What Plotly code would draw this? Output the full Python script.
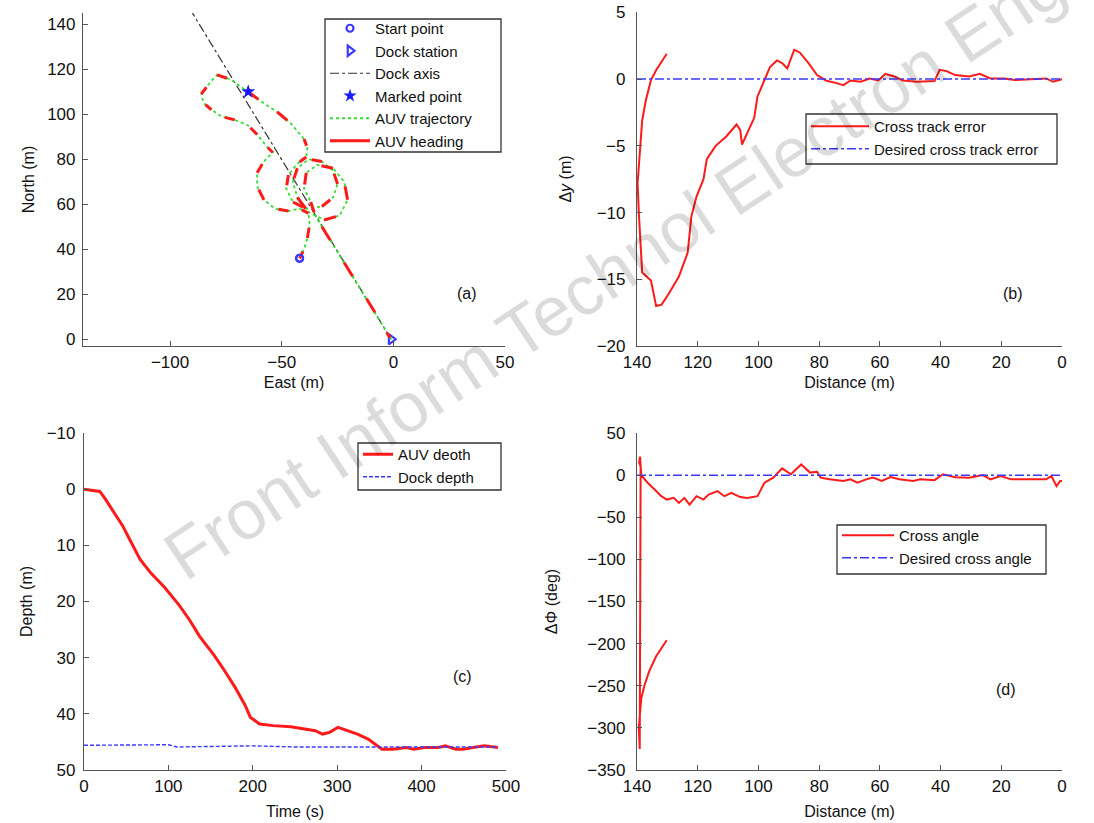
import plotly.graph_objects as go

FONT = "Liberation Sans, Arial, sans-serif"

# ---------------- Panel (a): trajectory ----------------
traj_east = [-42, -40, -38.5, -37.5, -38, -42, -47, -53, -58, -61, -61, -58, -54, -57, -61, -65, -71,
             -77, -81.5, -85, -86, -83, -79, -73, -65, -59, -52, -46, -40, -38.5, -39, -43, -47, -48,
             -45, -39, -32, -27, -25, -27, -32, -38, -43, -45, -43, -38, -31, -24, -20.5, -22, -27,
             -34, -39, -40, -37, -35, -32, -27, -22, -17, -12, -7, -3, -1]
traj_north = [36, 40, 45, 51, 56, 58, 57, 58, 62, 68, 74, 79, 83, 86, 91, 95, 97.5,
              99, 102, 105, 109, 113, 117.5, 115.5, 110, 105.5, 101, 96, 89, 85, 81, 78, 73, 67,
              61, 58, 59, 63, 69, 75, 79, 80, 76, 70, 63, 56.5, 53, 55, 62, 70, 76,
              77.5, 74, 67, 61, 55, 50, 42, 34, 26, 18, 10, 3, 0]
start_east, start_north = [-42], [36]
dock_east, dock_north = [-1], [0]
marked_east, marked_north = [-65], [110]
axis_east = [-1, -90]
axis_north = [0, 145]

# ---------------- Panel (b): cross track error ----------------
b_dist = [130.2, 133.7, 135.4, 137.1, 138.3, 139.1, 139.8, 139.4, 138.6, 138.3, 135.4, 134.2, 133.7,
          131.9, 129.6, 126.2, 123.3, 122.1, 120.4, 118.1, 117, 114.1, 110.6, 107.2, 106, 105.4,
          103.7, 101.4, 100.3, 98.5, 96.2, 93.9, 92.2, 90.5, 88.2, 86.4, 83.5, 80.7, 77.8, 74.3,
          72, 69.7, 66.3, 63.4, 60.5, 58.2, 55.3, 52.4, 47.8, 42, 40.3, 38, 35.2, 30.6, 27.1,
          23.6, 19, 15.6, 9.8, 5.2, 2.9, 0]
b_err = [1.9, 0.67, -0.07, -1.6, -3.1, -5.3, -7.8, -10, -13, -14.5, -15.1, -16.5, -17,
         -16.9, -16.1, -14.8, -13, -10.3, -8.8, -7.5, -6, -5, -4.3, -3.4, -3.8, -4.9,
         -4.05, -2.9, -1.3, -0.3, 0.9, 1.4, 1.2, 0.8, 2.2, 2.0, 1.2, 0.3, -0.1, -0.3,
         -0.45, -0.1, -0.2, 0.05, -0.1, 0.4, 0.2, -0.1, -0.2, -0.15, 0.7, 0.6, 0.3, 0.2, 0.4,
         0.05, 0.05, -0.07, 0, 0.05, -0.2, 0]
b_des_dist = [140, 0]
b_des_err = [0, 0]

# ---------------- Panel (c): depth ----------------
c_time = [0, 18.7, 25, 33, 45.7, 56, 66.5, 79, 95.6, 112, 124.7, 137, 153.8, 166, 178.7, 191, 197,
          208, 224, 245, 262, 274, 282.6, 291, 301, 311.7, 324, 336.7, 345, 353, 366, 382, 390.7,
          403, 420, 428, 440.6, 449, 461, 474, 490.4]
c_depth = [0, 0.4, 1.7, 3.5, 6.5, 9.5, 12.5, 14.9, 17.5, 20.5, 23.2, 26.2, 29.5, 32.2, 35.2, 38.5, 40.6,
           41.8, 42.1, 42.3, 42.7, 43, 43.6, 43.3, 42.4, 43, 43.6, 44.5, 45.4, 46.3, 46.3, 46, 46.3,
           46, 46, 45.7, 46.3, 46.3, 46, 45.7, 46]
c_dock_time = [0, 50, 100, 110, 150, 200, 250, 300, 350, 400, 450, 490]
c_dock_depth = [45.6, 45.6, 45.5, 45.9, 45.8, 45.7, 45.9, 45.9, 45.9, 45.9, 45.8, 45.9]

# ---------------- Panel (d): cross angle ----------------
d_dist = [130.2, 133.7, 136, 137.5, 138.6, 139.4, 139.1, 138.9, 138.8, 139.3, 139, 138.6, 136.5, 134.2,
          132, 130.2, 127.9, 126.2, 124.4, 122.7, 120.4, 118.1, 116.4, 113.5, 111.2, 108.9, 106,
          103.7, 100.3, 98, 95.1, 92.2, 89.3, 85.9, 83, 80.7, 79.5, 76.6, 72, 69.7, 67.4, 64.5,
          62.2, 59.4, 56.5, 53.6, 49, 46.7, 42, 39.2, 35.2, 30.6, 26, 23.6, 20.2, 16.7, 12.1,
          5.2, 3.5, 1.8, 0.6, 0]
d_ang = [-196, -215, -233, -249, -265, -300, -325, -70, 10, 15, 22, 0, -9, -17,
         -25, -29, -27, -33, -27, -35, -25, -29, -23, -19, -25, -21, -26,
         -27, -25, -9, -3, 8, 1, 12.7, 3, 4, -3, -5, -7, -5, -9, -5,
         -3, -7, -2.4, -5, -7, -5, -6, 1, -2.4, -3, 0, -5, -1, -5, -5,
         -5, -1, -13, -7, -7]
d_des_dist = [140, 0]
d_des_ang = [0, 0]

RED = "#ff1a1a"
BLUE = "#3a3aff"
GREEN = "#33dd33"

fig = go.Figure()

# heading marks: short pieces of every other trajectory leg, pointing along the path
head_e, head_n = [], []
for i in range(0, len(traj_east) - 1, 2):
    e0, n0 = traj_east[i], traj_north[i]
    e1, n1 = traj_east[i + 1], traj_north[i + 1]
    head_e += [e0, e0 + 0.75 * (e1 - e0), None]
    head_n += [n0, n0 + 0.75 * (n1 - n0), None]

fig.add_trace(go.Scatter(x=start_east, y=start_north, mode="markers", name="Start point",
                         marker=dict(symbol="circle-open", size=7, color=BLUE, line=dict(width=2.2)),
                         xaxis="x", yaxis="y", legend="legend"))
fig.add_trace(go.Scatter(x=dock_east, y=dock_north, mode="markers", name="Dock station",
                         marker=dict(symbol="triangle-right-open", size=9, color=BLUE, line=dict(width=2.2)),
                         xaxis="x", yaxis="y", legend="legend"))
fig.add_trace(go.Scatter(x=axis_east, y=axis_north, mode="lines", name="Dock axis",
                         line=dict(color="#333333", width=1.2, dash="dashdot"),
                         xaxis="x", yaxis="y", legend="legend"))
fig.add_trace(go.Scatter(x=marked_east, y=marked_north, mode="markers", name="Marked point",
                         marker=dict(symbol="star", size=10, color="#1a1aff"),
                         xaxis="x", yaxis="y", legend="legend"))
fig.add_trace(go.Scatter(x=traj_east, y=traj_north, mode="lines", name="AUV trajectory",
                         line=dict(color=GREEN, width=1.8, dash="dot"),
                         xaxis="x", yaxis="y", legend="legend"))
fig.add_trace(go.Scatter(x=head_e, y=head_n, mode="lines", name="AUV heading",
                         line=dict(color=RED, width=3),
                         xaxis="x", yaxis="y", legend="legend"))
fig.add_trace(go.Scatter(x=start_east, y=start_north, mode="markers", showlegend=False,
                         marker=dict(symbol="circle-open", size=7, color=BLUE, line=dict(width=2.2)),
                         xaxis="x", yaxis="y"))
fig.add_trace(go.Scatter(x=marked_east, y=marked_north, mode="markers", showlegend=False,
                         marker=dict(symbol="star", size=10, color="#1a1aff"),
                         xaxis="x", yaxis="y"))

# (b)
fig.add_trace(go.Scatter(x=b_dist, y=b_err, mode="lines", name="Cross track error",
                         line=dict(color=RED, width=2), xaxis="x2", yaxis="y2", legend="legend2"))
fig.add_trace(go.Scatter(x=b_des_dist, y=b_des_err, mode="lines", name="Desired cross track error",
                         line=dict(color=BLUE, width=1.5, dash="dashdot"), xaxis="x2", yaxis="y2", legend="legend2"))
# (c)
fig.add_trace(go.Scatter(x=c_time, y=c_depth, mode="lines", name="AUV deoth",
                         line=dict(color=RED, width=3), xaxis="x3", yaxis="y3", legend="legend3"))
fig.add_trace(go.Scatter(x=c_dock_time, y=c_dock_depth, mode="lines", name="Dock depth",
                         line=dict(color=BLUE, width=1.4, dash="4px,2px"), xaxis="x3", yaxis="y3", legend="legend3"))
# (d)
fig.add_trace(go.Scatter(x=d_dist, y=d_ang, mode="lines", name="Cross angle",
                         line=dict(color=RED, width=2), xaxis="x4", yaxis="y4", legend="legend4"))
fig.add_trace(go.Scatter(x=d_des_dist, y=d_des_ang, mode="lines", name="Desired cross angle",
                         line=dict(color=BLUE, width=1.5, dash="dashdot"), xaxis="x4", yaxis="y4", legend="legend4"))

# page body margin is removed (see post_script), so reference pixels map directly
OFF = 0
W, H = 1094 - OFF, 823 - OFF
def px_x(v): return (v - OFF) / W
def px_y(v): return 1 - (v - OFF) / H

axis_common = dict(showline=True, linecolor="#555555", linewidth=1.2, ticks="inside", ticklen=5,
                   tickcolor="#555555", showgrid=False, zeroline=False, automargin=False,
                   ticklabeloverflow="allow",
                   tickfont=dict(family=FONT, size=17, color="#111111"),
                   title_font=dict(family=FONT, size=16, color="#111111"))

fig.update_layout(
    width=W, height=H, margin=dict(l=0, r=0, t=0, b=0, autoexpand=False),
    paper_bgcolor="white", plot_bgcolor="white",
    font=dict(family=FONT, color="#111111"),
    xaxis=dict(axis_common, domain=[px_x(83), px_x(505)], range=[-139, 50], tickvals=[-100, -50, 0, 50],
               anchor="y", title=dict(text="East (m)", standoff=6)),
    yaxis=dict(axis_common, domain=[px_y(346), px_y(13)], range=[-3, 145], tickvals=list(range(0, 141, 20)),
               anchor="x", ticklabelstandoff=3, title=dict(text="North (m)", standoff=8)),
    xaxis2=dict(axis_common, domain=[px_x(637), px_x(1062)], range=[140, 0], tickvals=list(range(0, 141, 20)),
                anchor="y2", title=dict(text="Distance (m)", standoff=6)),
    yaxis2=dict(axis_common, domain=[px_y(346), px_y(12)], range=[-20, 5.03], tickvals=[-20, -15, -10, -5, 0, 5],
                anchor="x2", ticklabelstandoff=7, title=dict(text="Δ<i>y</i> (m)", standoff=21)),
    xaxis3=dict(axis_common, domain=[px_x(84), px_x(506)], range=[0, 500], tickvals=list(range(0, 501, 100)),
                anchor="y3", title=dict(text="Time (s)", standoff=11)),
    yaxis3=dict(axis_common, domain=[px_y(770), px_y(433)], range=[50, -10], tickvals=list(range(-10, 51, 10)),
                anchor="x3", ticklabelstandoff=4, title=dict(text="Depth (m)", standoff=10)),
    xaxis4=dict(axis_common, domain=[px_x(637), px_x(1062)], range=[140, 0], tickvals=list(range(0, 141, 20)),
                anchor="y4", title=dict(text="Distance (m)", standoff=11)),
    yaxis4=dict(axis_common, domain=[px_y(770), px_y(433)], range=[-350, 50], tickvals=list(range(-350, 51, 50)),
                anchor="x4", ticklabelstandoff=7, title=dict(text="ΔΦ (deg)", standoff=25)),
)

leg_common = dict(bgcolor="rgba(0,0,0,0)", borderwidth=0,
                  font=dict(family=FONT, size=15, color="#111111"),
                  xanchor="left", yanchor="top", tracegroupgap=0)
fig.update_layout(
    legend=dict(leg_common, x=px_x(325), y=px_y(12), itemwidth=40),
    legend2=dict(leg_common, x=px_x(806), y=px_y(110), itemwidth=58),
    legend3=dict(leg_common, x=px_x(358), y=px_y(438), itemwidth=30),
    legend4=dict(leg_common, x=px_x(837), y=px_y(519), itemwidth=52),
)

# legend frames (opaque white boxes with a dark border)
legend_boxes = [(325, 19, 501, 152), (806, 114, 1057, 164), (358, 443, 501, 490), (837, 525, 1046, 574)]
for x0, y0, x1, y1 in legend_boxes:
    fig.add_shape(type="rect", xref="paper", yref="paper", x0=px_x(x0), x1=px_x(x1), y0=px_y(y1), y1=px_y(y0),
                  line=dict(color="#333333", width=1.3), fillcolor="white", layer="above")

labels = [("(a)", 467, 293), ("(b)", 1025, 293), ("(c)", 462, 687), ("(d)", 1018, 700)]
for txt, lx, ly in labels:
    fig.add_annotation(text=txt, x=px_x(lx), y=px_y(ly), xref="paper", yref="paper", showarrow=False,
                       font=dict(family=FONT, size=16, color="#111111"))

# watermark
fig.add_annotation(text="Front Inform Technol Electron Eng", x=px_x(614), y=px_y(270), xref="paper",
                   yref="paper", showarrow=False, textangle=-33.5, xanchor="center", yanchor="middle",
                   font=dict(family=FONT, size=70, color="rgba(0,0,0,0.14)"))

fig.write_html("out.html", config={"displayModeBar": False},
               post_script="document.body.style.margin='0';")
